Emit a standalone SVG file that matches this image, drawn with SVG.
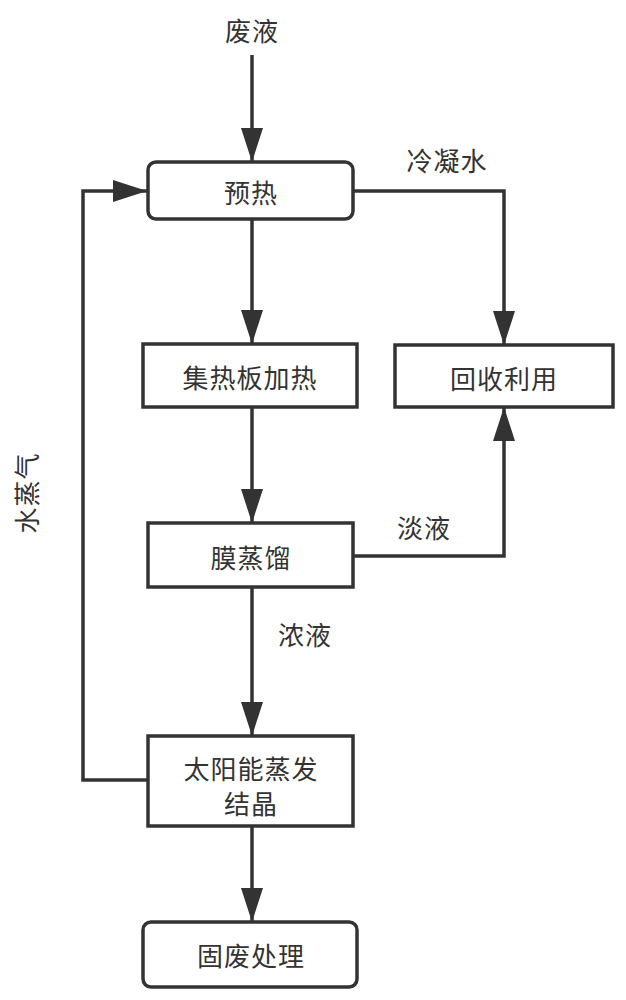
<svg xmlns="http://www.w3.org/2000/svg" width="626" height="1000" viewBox="0 0 626 1000">
<style>
.box{fill:#fff;stroke:#333;stroke-width:3.5}
.t{font-family:"Noto Sans CJK SC","Noto Sans",sans-serif;font-size:26px;letter-spacing:1px;fill:#333;text-anchor:middle;dominant-baseline:central}
.c{fill:none;stroke:#333;stroke-width:3.5}
</style>
<defs>
<marker id="ar" markerUnits="userSpaceOnUse" markerWidth="36" markerHeight="24" viewBox="0 0 36 24" refX="34" refY="12" orient="auto">
<path d="M0,1 L0,23 L34,12 Z" fill="#333"/>
</marker>
</defs>
<rect width="626" height="1000" fill="#fff"/>
<g id="connectors">
<line class="c" x1="252" y1="55" x2="252" y2="162" marker-end="url(#ar)"/>
<line class="c" x1="252" y1="219" x2="252" y2="344" marker-end="url(#ar)"/>
<line class="c" x1="252" y1="407" x2="252" y2="523" marker-end="url(#ar)"/>
<line class="c" x1="252" y1="587" x2="252" y2="736" marker-end="url(#ar)"/>
<line class="c" x1="252" y1="826" x2="252" y2="922" marker-end="url(#ar)"/>
<polyline class="c" points="353,191 504,191 504,345" marker-end="url(#ar)"/>
<polyline class="c" points="353,556 504,556 504,407" marker-end="url(#ar)"/>
<polyline class="c" points="148,780 83,780 83,191 147,191" marker-end="url(#ar)"/>
<text class="t" x="252" y="29">废液</text>
<text class="t" x="447" y="159">冷凝水</text>
<text class="t" x="424" y="526">淡液</text>
<text class="t" x="305" y="633">浓液</text>
<text class="t" x="25" y="493" transform="rotate(-90 25 493)">水蒸气</text>
</g>
<g id="preheat"><rect class="box" x="148" y="162" width="205" height="57" rx="8"/><text class="t" x="251" y="191">预热</text></g>
<g id="collector"><rect class="box" x="143" y="344" width="214" height="63"/><text class="t" x="250" y="376">集热板加热</text></g>
<g id="recycle"><rect class="box" x="395" y="345" width="218" height="62"/><text class="t" x="504" y="377">回收利用</text></g>
<g id="membrane"><rect class="box" x="148" y="523" width="205" height="64"/><text class="t" x="251" y="556">膜蒸馏</text></g>
<g id="solar"><rect class="box" x="148" y="736" width="205" height="90"/><text class="t" x="251" y="767">太阳能蒸发</text><text class="t" x="251" y="802">结晶</text></g>
<g id="solid"><rect class="box" x="143" y="922" width="214" height="65" rx="8"/><text class="t" x="251" y="954">固废处理</text></g>
</svg>
